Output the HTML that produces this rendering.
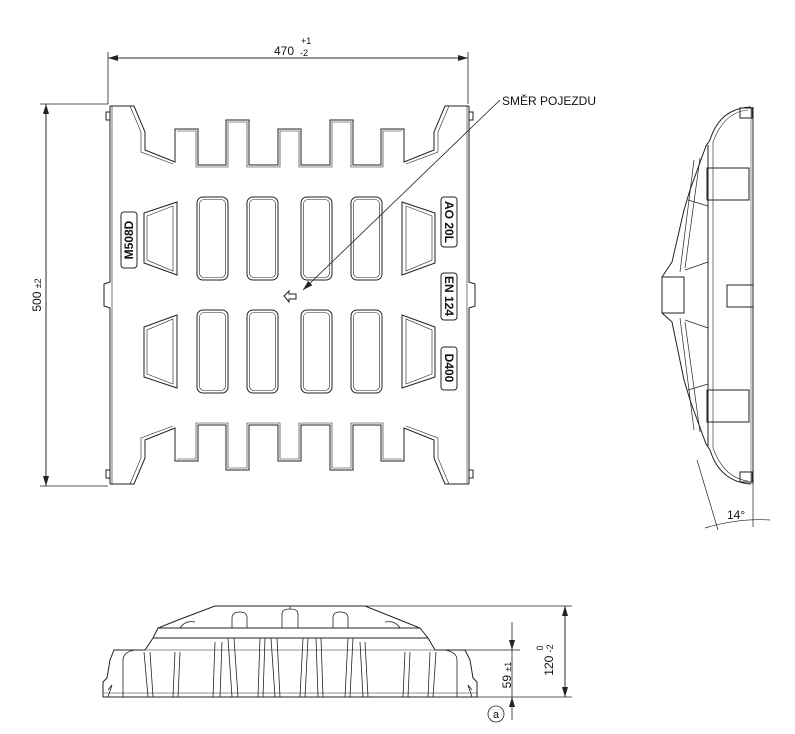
<!DOCTYPE html>
<html><head><meta charset="utf-8"><style>
html,body{margin:0;padding:0;background:#fff;}
svg{display:block;}
text{font-family:"Liberation Sans",sans-serif;fill:#111;}
</style></head><body>
<svg width="795" height="734" viewBox="0 0 795 734" xmlns="http://www.w3.org/2000/svg">
<defs>
<marker id="ar" markerWidth="10" markerHeight="6" refX="10" refY="3" orient="auto" markerUnits="userSpaceOnUse"><path d="M0,0 L10,3 L0,6 z" fill="#222"/></marker>
<g id="half" fill="none" stroke="#222" stroke-width="1">
  <path d="M110,106 L134,106 L145,132 L145,150 L175,162 L175,129 L198,129 L198,165 L226,165 L226,120 L249,120 L249,165 L278,165 L278,129 L289.5,129"/>
  <path d="M130,106 L141,132 L141,152 L173,164" stroke-width="0.6"/>
  <path d="M177,131 L196,131 L196,167 L228,167 L228,122 L247,122 L247,167 L280,167 L280,131 L289.5,131" stroke-width="0.6"/>
  <rect x="197" y="197" width="31" height="83" rx="6"/>
  <rect x="199.5" y="199.5" width="26" height="78" rx="4.5" stroke-width="0.6"/>
  <rect x="247" y="197" width="31" height="83" rx="6"/>
  <rect x="249.5" y="199.5" width="26" height="78" rx="4.5" stroke-width="0.6"/>
  <path d="M144,213 L177,202 L177,275 L144,263 Z"/>
  <path d="M147,216 L173,206 L173,271 L147,260 Z" stroke-width="0.6"/>
  <path d="M110,106 L110,282 L104,284 L104,295"/>
  <path d="M110,112 L106,112 L106,120 L110,120"/>
</g>
</defs>

<!-- top view -->
<use href="#half"/>
<use href="#half" transform="translate(579,0) scale(-1,1)"/>
<use href="#half" transform="translate(0,590) scale(1,-1)"/>
<use href="#half" transform="translate(579,590) scale(-1,-1)"/>
<g fill="none" stroke="#222" stroke-width="1">
  <line x1="112" y1="106" x2="112" y2="484" stroke-width="0.6"/>
  <line x1="467" y1="106" x2="467" y2="484" stroke-width="0.6"/>
  <!-- label boxes -->
  <rect x="121" y="212" width="16" height="56" rx="3"/>
  <rect x="441" y="197" width="16" height="50" rx="3"/>
  <rect x="441" y="273" width="16" height="47" rx="3"/>
  <rect x="441" y="347" width="16" height="43" rx="3"/>
  <!-- small arrow -->
  <path d="M284,296 L289,291 L289,294 L296,294 L296,299 L289,299 L289,302 Z"/>
</g>
<text transform="translate(133,240) rotate(-90)" font-size="12" font-weight="bold" text-anchor="middle">M508D</text>
<text transform="translate(445,222) rotate(90)" font-size="12" font-weight="bold" text-anchor="middle">AO 20L</text>
<text transform="translate(445,296) rotate(90)" font-size="12" font-weight="bold" text-anchor="middle">EN 124</text>
<text transform="translate(445,368) rotate(90)" font-size="12" font-weight="bold" text-anchor="middle">D400</text>

<!-- leader -->
<line x1="500" y1="100" x2="303" y2="290" stroke="#222" stroke-width="0.8" marker-end="url(#ar)"/>
<text x="502" y="105" font-size="12">SMĚR  POJEZDU</text>

<!-- dims top view -->
<g stroke="#222" stroke-width="0.8" fill="none">
  <line x1="108" y1="52" x2="108" y2="104"/>
  <line x1="468" y1="52" x2="468" y2="104"/>
  <line x1="108" y1="58" x2="468" y2="58" marker-end="url(#ar)"/>
  <line x1="468" y1="58" x2="108" y2="58" marker-end="url(#ar)"/>
  <line x1="40" y1="104" x2="108" y2="104"/>
  <line x1="40" y1="486" x2="108" y2="486"/>
  <line x1="46" y1="104" x2="46" y2="486" marker-end="url(#ar)"/>
  <line x1="46" y1="486" x2="46" y2="104" marker-end="url(#ar)"/>
</g>
<text x="284" y="55" font-size="12" text-anchor="middle">470</text>
<text x="301" y="44" font-size="9">+1</text>
<text x="300" y="56" font-size="9">-2</text>
<text transform="translate(41,295) rotate(-90)" font-size="12" text-anchor="middle">500 <tspan font-size="9">±2</tspan></text>

<!-- side view -->
<g fill="none" stroke="#222" stroke-width="1">
  <line x1="753" y1="107" x2="753" y2="484"/>
  <line x1="751" y1="107" x2="751" y2="484" stroke-width="0.5"/>
  <path d="M751,107 Q720,108 710,140 L706,146 L690,190 L684,210 L672,262 L662,277 L662,313 L672,322 L684,380 L690,400 L706,444 L710,450 Q720,482 751,484"/>
  <path d="M748,110 Q724,112 713,142 L713,448 Q724,478 748,481" stroke-width="0.6"/>
  <line x1="708" y1="145" x2="708" y2="446"/>
  <path d="M700,158 L685,268 M694,160 L680,272 M700,432 L685,322 M694,430 L680,318" stroke-width="0.7"/>
  <path d="M685,270 L708,262 M685,320 L708,328 M688,200 L708,206 M688,390 L708,384" stroke-width="0.7"/>
  <rect x="662" y="277" width="22" height="36"/>
  <rect x="707" y="168" width="42" height="32"/>
  <rect x="707" y="390" width="42" height="32"/>
  <rect x="727" y="285" width="26" height="22"/>
  <rect x="740" y="108" width="12" height="10"/>
  <rect x="740" y="472" width="12" height="10"/>
  <line x1="753" y1="484" x2="753" y2="527" stroke-width="0.7"/>
  <line x1="697" y1="460" x2="718" y2="530" stroke-width="0.7"/>
  <path d="M705,528 Q738,518 770,520" stroke-width="0.7"/>
</g>
<text x="727" y="519" font-size="12">14°</text>

<!-- bottom view -->
<g fill="none" stroke="#222" stroke-width="1">
  <path d="M215,606 L365,606 L400,620 L420,628 L428,638 L435,650 L465,650 L470,660 L473,678 L477,682 L477,697 L103,697 L103,682 L107,678 L110,660 L114,650 L145,650 L153,638 L158,628 L178,620 Z"/>
  <line x1="158" y1="628" x2="420" y2="628"/>
  <line x1="153" y1="638" x2="428" y2="638"/>
  <line x1="103" y1="693" x2="477" y2="693" stroke-width="0.6"/>
  <path d="M145,650 L435,650" stroke-width="0.6"/>
  <g stroke-width="0.8">
    <path d="M232,628 L232,618 Q232,612 240,612 Q247,612 247,618 L247,628"/>
    <path d="M282,628 L282,614 Q282,609 290,609 Q298,609 298,614 L298,628 M290,606 L290,609"/>
    <path d="M333,628 L333,618 Q333,612 340,612 Q348,612 348,618 L348,628"/>
    <path d="M180,628 Q185,620 195,622 M400,628 Q395,620 385,622"/>
    <path d="M148,697 L144,652 M153,697 L150,652 M173,697 L175,652 M178,697 L180,652"/>
    <path d="M213,697 L215,642 M220,697 L222,642 M232,697 L228,638 M238,697 L234,638"/>
    <path d="M258,697 L260,638 M263,697 L265,638 M275,697 L271,638 M280,697 L277,638"/>
    <path d="M300,697 L303,638 M305,697 L308,638 M318,697 L316,638 M323,697 L321,638"/>
    <path d="M345,697 L348,638 M350,697 L353,638 M363,697 L360,642 M368,697 L365,642"/>
    <path d="M403,697 L405,652 M408,697 L410,652 M428,697 L430,652 M433,697 L436,652"/>
    <path d="M123,697 L123,660 Q123,652 135,650 M457,697 L457,660 Q457,652 445,650"/>
    <path d="M108,697 L112,685 L108,690 M472,697 L468,685 L472,690"/>
  </g>
</g>
<!-- bottom dims -->
<g stroke="#222" stroke-width="0.8" fill="none">
  <line x1="365" y1="606" x2="572" y2="606"/>
  <line x1="477" y1="697" x2="572" y2="697"/>
  <line x1="465" y1="650" x2="520" y2="650"/>
  <line x1="565" y1="606" x2="565" y2="697" marker-end="url(#ar)"/>
  <line x1="565" y1="697" x2="565" y2="606" marker-end="url(#ar)"/>
  <line x1="512" y1="622" x2="512" y2="650" marker-end="url(#ar)"/>
  <line x1="512" y1="720" x2="512" y2="697" marker-end="url(#ar)"/>
  <line x1="512" y1="650" x2="512" y2="697"/>
  <circle cx="496" cy="714" r="8"/>
</g>
<text x="496" y="718" font-size="11" text-anchor="middle">a</text>
<text transform="translate(511,675) rotate(-90)" font-size="12" text-anchor="middle">59 <tspan font-size="9">±1</tspan></text>
<text transform="translate(553,660) rotate(-90)" font-size="12" text-anchor="middle">120 <tspan font-size="9">-2</tspan></text>
<text transform="translate(543,648) rotate(-90)" font-size="9" text-anchor="middle">0</text>
</svg>
</body></html>
